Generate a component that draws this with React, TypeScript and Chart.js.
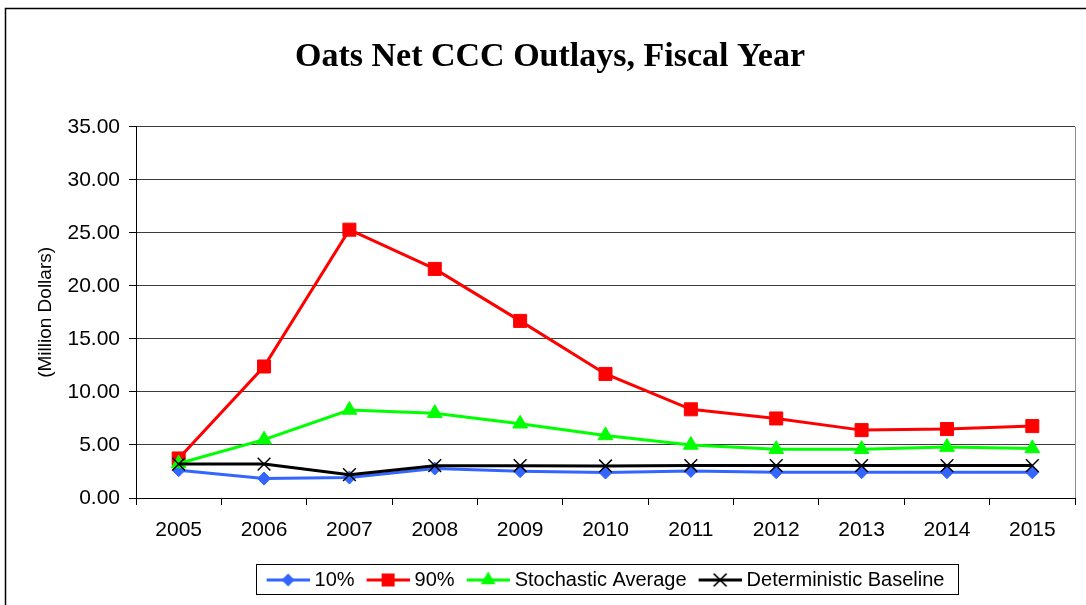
import React, { useEffect, useRef } from "react";
import { Chart, registerables } from "chart.js";

Chart.register(...registerables);

const years = ["2005", "2006", "2007", "2008", "2009", "2010", "2011", "2012", "2013", "2014", "2015"];
const p10 = [2.62, 1.83, 1.93, 2.78, 2.53, 2.4, 2.55, 2.43, 2.43, 2.43, 2.42];
const p90 = [3.73, 12.4, 25.3, 21.6, 16.7, 11.7, 8.36, 7.5, 6.4, 6.5, 6.78];
const stochasticAverage = [3.25, 5.5, 8.3, 8.0, 7.0, 5.9, 5.0, 4.6, 4.6, 4.8, 4.67];
const deterministicBaseline = [3.2, 3.2, 2.2, 3.05, 3.05, 3.02, 3.06, 3.06, 3.06, 3.06, 3.06];

const seriesLabels = ["10%", "90%", "Stochastic Average", "Deterministic Baseline"];
const seriesColors = ["#3366FF", "#FF0000", "#00FF00", "#000000"];
const seriesMarkers = ["rectRot", "rect", "triangle", "crossRot"];

const yMin = 0;
const yMax = 35;
const yStep = 5;

function drawMarker(ctx: CanvasRenderingContext2D, style: string, cx: number, cy: number, color: string) {
  ctx.fillStyle = color;
  ctx.strokeStyle = color;
  ctx.beginPath();
  if (style === "rectRot") {
    const h = 6.5;
    ctx.moveTo(cx, cy - h);
    ctx.lineTo(cx + h, cy);
    ctx.lineTo(cx, cy + h);
    ctx.lineTo(cx - h, cy);
    ctx.closePath();
    ctx.fill();
  } else if (style === "rect") {
    const h = 6.5;
    ctx.rect(cx - h, cy - h, 2 * h, 2 * h);
    ctx.fill();
  } else if (style === "triangle") {
    const r = 8.5;
    ctx.moveTo(cx, cy - r);
    ctx.lineTo(cx + r * 0.866, cy + r * 0.5);
    ctx.lineTo(cx - r * 0.866, cy + r * 0.5);
    ctx.closePath();
    ctx.fill();
  } else {
    const h = 6.4;
    ctx.lineWidth = 1.5;
    ctx.moveTo(cx - h, cy - h);
    ctx.lineTo(cx + h, cy + h);
    ctx.moveTo(cx + h, cy - h);
    ctx.lineTo(cx - h, cy + h);
    ctx.stroke();
  }
}

function makeLegendIcon(color: string, style: string) {
  const c = document.createElement("canvas");
  c.width = 48;
  c.height = 20;
  const ctx = c.getContext("2d")!;
  ctx.strokeStyle = color;
  ctx.lineWidth = 3;
  ctx.beginPath();
  ctx.moveTo(5, 10);
  ctx.lineTo(48, 10);
  ctx.stroke();
  drawMarker(ctx, style, 26.5, 10, color);
  return c;
}

const framePlugin = {
  id: "frame",
  beforeDraw(chart: any) {
    const { ctx, width, height } = chart;
    ctx.save();
    ctx.fillStyle = "#FFFFFF";
    ctx.fillRect(0, 0, width, height);
    ctx.restore();
  },
  beforeDatasetsDraw(chart: any) {
    const { ctx, chartArea } = chart;
    ctx.save();
    ctx.strokeStyle = "#8c8c8c";
    ctx.lineWidth = 1;
    ctx.beginPath();
    ctx.moveTo(Math.round(chartArea.right) + 0.5, chartArea.top);
    ctx.lineTo(Math.round(chartArea.right) + 0.5, chartArea.bottom);
    ctx.stroke();
    ctx.restore();
  },
  afterDraw(chart: any) {
    const { ctx } = chart;
    ctx.save();
    ctx.strokeStyle = "#000000";
    ctx.lineWidth = 1.5;
    ctx.beginPath();
    ctx.moveTo(5.5, 605);
    ctx.lineTo(5.5, 8.5);
    ctx.lineTo(1086, 8.5);
    ctx.stroke();
    const boxes = chart.legend && chart.legend.legendHitBoxes;
    if (boxes && boxes.length) {
      const first = boxes[0];
      const last = boxes[boxes.length - 1];
      const cy = first.top + first.height / 2;
      const left = Math.round(first.left - 11) + 0.5;
      const right = Math.round(last.left + last.width + 14) + 0.5;
      const top = Math.round(cy - 16) + 0.5;
      const bottom = Math.round(cy + 14) + 0.5;
      ctx.lineWidth = 1;
      ctx.strokeRect(left, top, right - left, bottom - top);
    }
    ctx.restore();
  },
};

export default function App() {
  const ref = useRef<HTMLCanvasElement>(null);

  useEffect(() => {
    if (!ref.current) return;
    Chart.defaults.font.family = "'Liberation Sans', Arial, sans-serif";
    const seriesData = [p10, p90, stochasticAverage, deterministicBaseline];
    const icons = seriesColors.map((c, i) => makeLegendIcon(c, seriesMarkers[i]));
    const radii = [6.5, 9.2, 8.5, 9];
    const chart = new Chart(ref.current, {
      type: "line",
      data: {
        labels: years,
        datasets: seriesData.map((d, i) => ({
          label: seriesLabels[i],
          data: d,
          borderColor: seriesColors[i],
          backgroundColor: seriesColors[i],
          borderWidth: 3,
          tension: 0,
          pointStyle: seriesMarkers[i] as any,
          pointRadius: radii[i],
          pointBorderWidth: i === 3 ? 1.5 : 1,
          pointBackgroundColor: seriesColors[i],
          pointBorderColor: seriesColors[i],
          order: 4 - i,
        })),
      },
      options: {
        responsive: false,
        animation: false,
        layout: { padding: { left: 25, right: 11, top: 8, bottom: 5 } },
        plugins: {
          title: {
            display: true,
            text: "Oats Net CCC Outlays, Fiscal Year",
            color: "#000",
            font: { family: "'Liberation Serif', 'Times New Roman', serif", size: 34, weight: "bold" },
            padding: { top: 29, bottom: 49 },
          },
          legend: {
            display: true,
            position: "bottom",
            fullSize: false,
            labels: {
              color: "#000",
              font: { size: 20 },
              usePointStyle: true,
              pointStyleWidth: 38,
              padding: 12,
              generateLabels: () =>
                seriesLabels.map((t, i) => ({
                  text: t,
                  pointStyle: icons[i] as any,
                  fillStyle: seriesColors[i],
                  strokeStyle: seriesColors[i],
                  lineWidth: 0,
                  hidden: false,
                  datasetIndex: i,
                  fontColor: "#000",
                })),
            },
          },
          tooltip: { enabled: false },
        },
        scales: {
          x: {
            type: "category",
            offset: true,
            grid: {
              offset: true,
              drawOnChartArea: false,
              drawTicks: true,
              tickLength: 7,
              tickColor: "#000",
              tickWidth: 1,
            },
            border: { color: "#000", width: 1 },
            ticks: { color: "#000", font: { size: 21 }, padding: 13, maxRotation: 0 },
            afterFit: (scale: any) => {
              scale.height = 60;
            },
          },
          y: {
            min: yMin,
            max: yMax,
            grid: { color: "#3c3c3c", lineWidth: 1, tickColor: "#000", tickLength: 7 },
            border: { color: "#000", width: 1 },
            ticks: {
              stepSize: yStep,
              color: "#000",
              font: { size: 21 },
              padding: 9,
              callback: (v: any) => Number(v).toFixed(2),
            },
            title: {
              display: true,
              text: "(Million Dollars)",
              color: "#000",
              font: { size: 19 },
              padding: { top: 9, bottom: 10 },
            },
            afterFit: (scale: any) => {
              scale.width = 111;
            },
          },
        },
      },
      plugins: [framePlugin],
    });
    return () => chart.destroy();
  }, []);

  return (
    <div style={{ position: "absolute", left: 0, top: 0, width: 1086, height: 605 }}>
      <canvas ref={ref} width={1086} height={605} style={{ display: "block", width: 1086, height: 605 }} />
    </div>
  );
}
